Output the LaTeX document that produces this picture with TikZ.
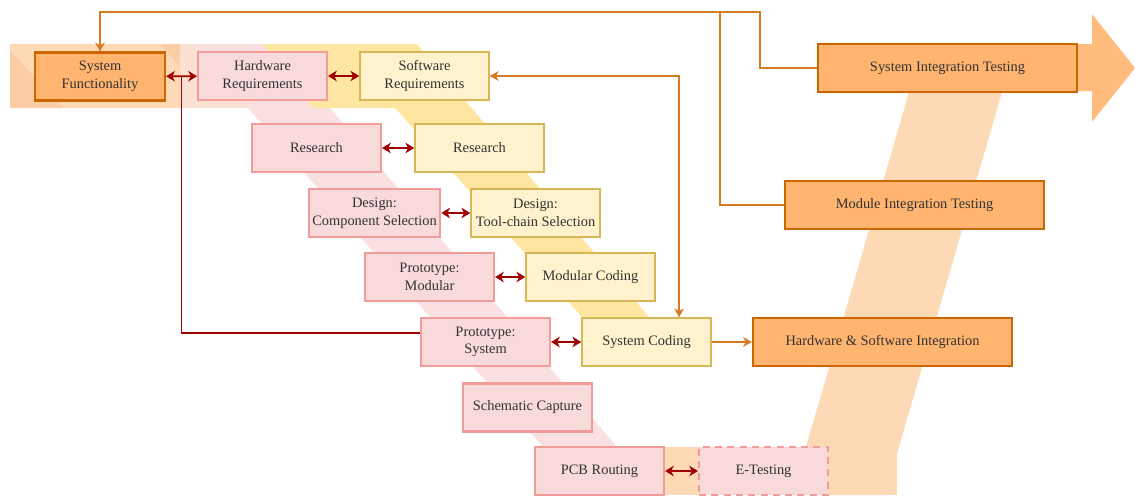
\documentclass[tikz,border=0pt]{standalone}
\usepackage{fontspec}
\setmainfont{Liberation Serif}
\usetikzlibrary{arrows.meta, calc}

\definecolor{bandorange}{RGB}{253,218,181}
\definecolor{banddark}{RGB}{251,205,165}
\definecolor{bandpeach}{RGB}{252,224,210}
\definecolor{bandpink}{RGB}{250,224,224}
\definecolor{bandyellow}{RGB}{255,230,160}
\definecolor{bigarrow}{RGB}{255,188,125}
\definecolor{testfill}{RGB}{255,181,112}
\definecolor{testline}{RGB}{204,102,0}
\definecolor{hwfill}{RGB}{248,218,219}
\definecolor{hwline}{RGB}{241,156,153}
\definecolor{swfill}{RGB}{255,242,204}
\definecolor{swline}{RGB}{214,182,86}
\definecolor{linkred}{RGB}{160,0,0}
\definecolor{flowline}{RGB}{214,122,36}
\definecolor{textgray}{RGB}{50,50,50}

\tikzset{
  box/.style={draw, line width=1.2pt, minimum width=2.58cm, minimum height=0.96cm,
    align=center, inner sep=2pt, font=\fontsize{8.2}{10}\selectfont, text=textgray},
  hwbox/.style={box, fill=hwfill, draw=hwline},
  swbox/.style={box, fill=swfill, draw=swline, line width=0.9pt},
  testbox/.style={box, fill=testfill, draw=testline, line width=1.3pt, minimum width=5.18cm},
  link/.style={draw=linkred, line width=1pt,
    {Stealth[length=5pt,width=6pt,inset=1.5pt]}-{Stealth[length=5pt,width=6pt,inset=1.5pt]}},
  flow/.style={draw=flowline, line width=0.9pt},
  tip/.style={-{Stealth[length=5pt,width=5.5pt,inset=1.5pt]}}
}

\begin{document}
\begin{tikzpicture}[x=0.02cm, y=-0.02cm]
  \useasboundingbox (0,0) rectangle (1135,495);

  % background bands
  \fill[bandorange] (10,44) rectangle (180,108);
  \fill[banddark] (10,50) -- (10,108) -- (63,108) -- cycle;
  \fill[banddark] (160,44) -- (180,44) -- (180,67) -- cycle;
  \fill[bandpeach] (180,44) rectangle (265,108);
  \fill[bandpink] (193,44) -- (263,44) -- (313,108) -- (330,108) -- (617,447) -- (543,447) -- (248,108) -- cycle;
  \fill[bandyellow] (263,44) -- (417,44) -- (650,318) -- (583,318) -- (395,108) -- (313,108) -- cycle;
  \fill[bandorange] (540,447) rectangle (897,495);
  \fill[bandorange] (923,44) -- (1016,44) -- (885,495) -- (792,495) -- cycle;
  \fill[bigarrow] (1000,44) -- (1092,44) -- (1092,14) -- (1135,68) -- (1092,122) -- (1092,91) -- (1000,91) -- cycle;

  % left side: requirements and design
  \node[testbox, minimum width=2.6cm] (sf) at (100,76.5) {System\\Functionality};
  \node[hwbox] (hwr) at (262.5,76) {Hardware\\Requirements};
  \node[swbox] (swr) at (424.5,76) {Software\\Requirements};
  \node[hwbox] (hres) at (316.5,148) {Research};
  \node[swbox] (sres) at (479.5,148) {Research};
  \node[hwbox] (hdes) at (374.5,213) {Design:\\Component Selection};
  \node[swbox] (sdes) at (535.5,213) {Design:\\Tool-chain Selection};
  \node[hwbox] (hpm) at (429.5,277) {Prototype:\\Modular};
  \node[swbox] (smc) at (590.5,277) {Modular Coding};
  \node[hwbox] (hps) at (485.5,342) {Prototype:\\System};
  \node[swbox] (ssc) at (646.5,342) {System Coding};
  \node[hwbox] (hsch) at (527.5,407.5) {Schematic Capture};
  \node[hwbox] (hpcb) at (599.5,471) {PCB Routing};
  \node[hwbox, dashed, dash pattern=on 4pt off 3pt] (etest) at (763.5,471) {E-Testing};

  % right side: integration and testing
  \node[testbox] (hsi) at (882.5,342) {Hardware \& Software Integration};
  \node[testbox] (mit) at (914.5,205) {Module Integration Testing};
  \node[testbox] (sit) at (947.5,68) {System Integration Testing};

  % hardware <-> software links
  \draw[link] (sf) -- (hwr);
  \draw[link] (hwr) -- (swr);
  \draw[link] (hres) -- (sres);
  \draw[link] (hdes) -- (sdes);
  \draw[link] (hpm) -- (smc);
  \draw[link] (hps) -- (ssc);
  \draw[link] (hpcb) -- (etest);
  \coordinate (jn) at ($(sf.east)!0.5!(hwr.west)$);
  \draw[draw=linkred, line width=1pt] (jn) |- ($(hps.west)+(0,-9)$);

  % feedback to the top
  \coordinate (sitbend) at (760,12);
  \coordinate (mitbend) at (720,12);
  \draw[flow, tip] (sit.west) -| (sitbend) -| (sf.north);
  \draw[flow] (mit.west) -| (mitbend);
  \draw[flow, tip] (ssc.east) -- (hsi.west);
  \draw[flow, {Stealth[length=5pt,width=5.5pt,inset=1.5pt]}-{Stealth[length=5pt,width=5.5pt,inset=1.5pt]}]
    (swr.east) -| ($(ssc.north)!0.5!(ssc.north east)$);
\end{tikzpicture}
\end{document}
